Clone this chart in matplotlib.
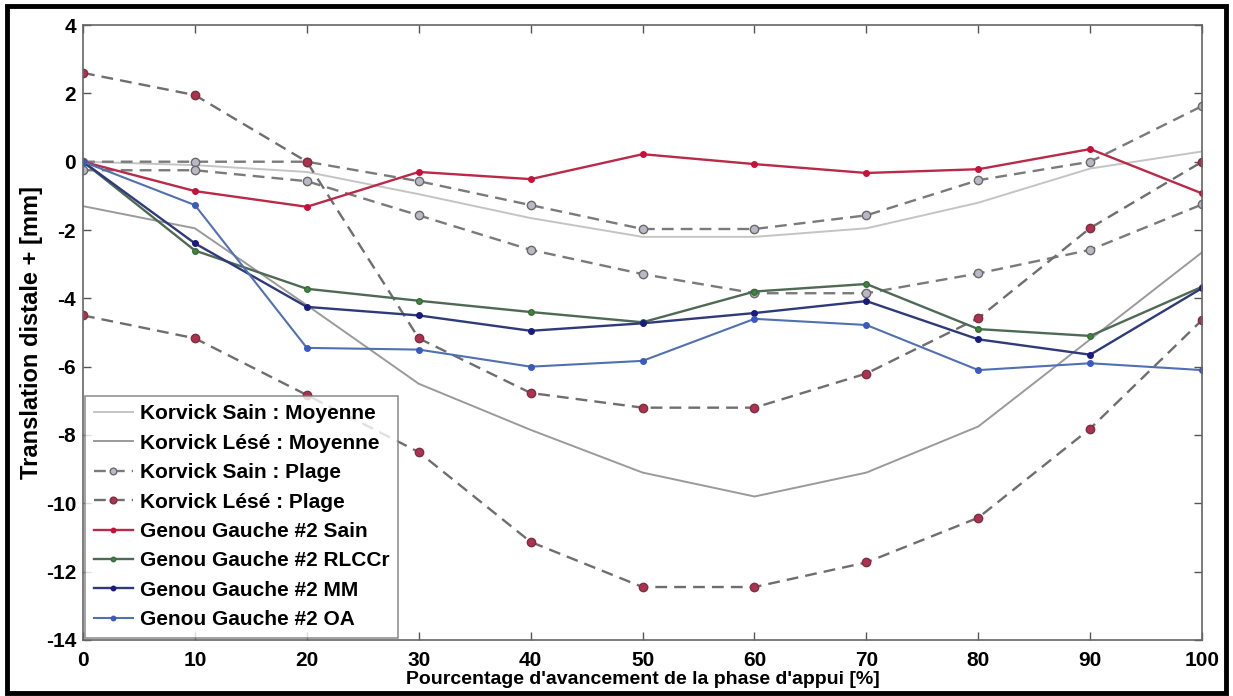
import matplotlib
matplotlib.use("Agg")
import matplotlib.pyplot as plt
from matplotlib.patches import Rectangle

plt.rcParams['font.family'] = ['Liberation Sans', 'DejaVu Sans']
plt.rcParams['font.weight'] = 'bold'
plt.rcParams['axes.unicode_minus'] = False

# Stance-phase progression (%)
pct = [0, 10, 20, 30, 40, 50, 60, 70, 80, 90, 100]

# Korvick reference means
korvick_sain_moy = [0.0, -0.1, -0.3, -0.95, -1.65, -2.2, -2.2, -1.95, -1.2, -0.2, 0.3]
korvick_lese_moy = [-1.3, -1.95, -4.2, -6.5, -7.85, -9.1, -9.8, -9.1, -7.75, -5.2, -2.65]

# Korvick ranges (upper / lower bounds)
korvick_sain_haut = [0.0, 0.0, 0.0, -0.57, -1.27, -1.97, -1.97, -1.57, -0.54, 0.0, 1.63]
korvick_sain_bas = [-0.25, -0.25, -0.57, -1.57, -2.58, -3.29, -3.85, -3.85, -3.27, -2.58, -1.25]
korvick_lese_haut = [2.6, 1.95, 0.0, -5.17, -6.77, -7.2, -7.2, -6.2, -4.58, -1.94, 0.0]
korvick_lese_bas = [-4.5, -5.17, -6.83, -8.5, -11.13, -12.45, -12.45, -11.73, -10.42, -7.81, -4.63]

# Left knee #2
gg_sain = [0.0, -0.86, -1.32, -0.3, -0.51, 0.22, -0.07, -0.33, -0.22, 0.37, -0.93]
gg_rlccr = [0.0, -2.6, -3.72, -4.07, -4.4, -4.7, -3.8, -3.58, -4.9, -5.1, -3.66]
gg_mm = [0.0, -2.39, -4.25, -4.5, -4.95, -4.73, -4.43, -4.08, -5.2, -5.65, -3.7]
gg_oa = [0.0, -1.27, -5.45, -5.5, -6.0, -5.83, -4.6, -4.78, -6.1, -5.9, -6.1]

labels = ["Korvick Sain : Moyenne", "Korvick Lésé : Moyenne",
          "Korvick Sain : Plage", "Korvick Lésé : Plage",
          "Genou Gauche #2 Sain", "Genou Gauche #2 RLCCr",
          "Genou Gauche #2 MM", "Genou Gauche #2 OA"]

fig = plt.figure(figsize=(12.33, 6.96), dpi=100)
ax = fig.add_axes([0.0673, 0.0805, 0.9077, 0.8835])

h1, = ax.plot(pct, korvick_sain_moy, color='#c4c4c4', lw=1.4)
h2, = ax.plot(pct, korvick_lese_moy, color='#9a9a9a', lw=1.4)

dash = (0, (5, 3))
sain_plage = dict(color='#7a7a7a', lw=1.7, linestyle=dash, marker='o', ms=6,
                  mfc='#b8b8c8', mec='#6a6a6a', mew=1.0)
lese_plage = dict(color='#6e6e6e', lw=1.7, linestyle=dash, marker='o', ms=6,
                  mfc='#b03050', mec='#7a3040', mew=1.0)
h3, = ax.plot(pct, korvick_sain_haut, **sain_plage)
ax.plot(pct, korvick_sain_bas, **sain_plage)
h4, = ax.plot(pct, korvick_lese_haut, **lese_plage)
ax.plot(pct, korvick_lese_bas, **lese_plage)

h5, = ax.plot(pct, gg_sain, color='#b82a48', lw=1.7, marker='o', ms=4, mfc='#c8103a', mec='#c8103a')
h6, = ax.plot(pct, gg_rlccr, color='#4f6a54', lw=1.7, marker='o', ms=4, mfc='#3a8a3a', mec='#3a6a3a')
h7, = ax.plot(pct, gg_mm, color='#2e3a7a', lw=1.7, marker='o', ms=4, mfc='#1a1a80', mec='#1a1a80')
h8, = ax.plot(pct, gg_oa, color='#5070b0', lw=1.5, marker='o', ms=4, mfc='#3a5ac0', mec='#3a5ac0')

ax.set_xlim(0, 100)
ax.set_ylim(-14, 4)
ax.set_xticks(range(0, 101, 10))
ax.set_yticks(range(-14, 5, 2))
ax.tick_params(direction='in', top=True, right=True, length=6, width=1,
               color='#555555', labelsize=15)
ax.tick_params(axis='x', pad=8)
ax.tick_params(axis='y', pad=5)
for lab in ax.get_xticklabels() + ax.get_yticklabels():
    lab.set_fontweight('bold')
for sp in ax.spines.values():
    sp.set_color('#666666')
    sp.set_linewidth(1.2)

ax.set_xlabel("Pourcentage d'avancement de la phase d'appui [%]", fontsize=14,
              fontweight='bold', labelpad=1)
ax.set_ylabel("Translation distale + [mm]", fontsize=17, fontweight='bold', labelpad=2)

leg = ax.legend([h1, h2, h3, h4, h5, h6, h7, h8], labels, loc='lower left',
                bbox_to_anchor=(0.002, 0.004), borderaxespad=0,
                prop={'weight': 'bold', 'size': 15}, frameon=True, fancybox=False,
                edgecolor='#777777', labelspacing=0.5, handlelength=1.9,
                handletextpad=0.35, borderpad=0.4, markerscale=0.8)
leg.get_frame().set_linewidth(1.2)

# outer black frame around the figure
fig.patches.append(Rectangle((0.006, 0.004), 0.988, 0.988, transform=fig.transFigure,
                             fill=False, edgecolor='black', linewidth=3.5))

fig.savefig('out.png', dpi=100)
